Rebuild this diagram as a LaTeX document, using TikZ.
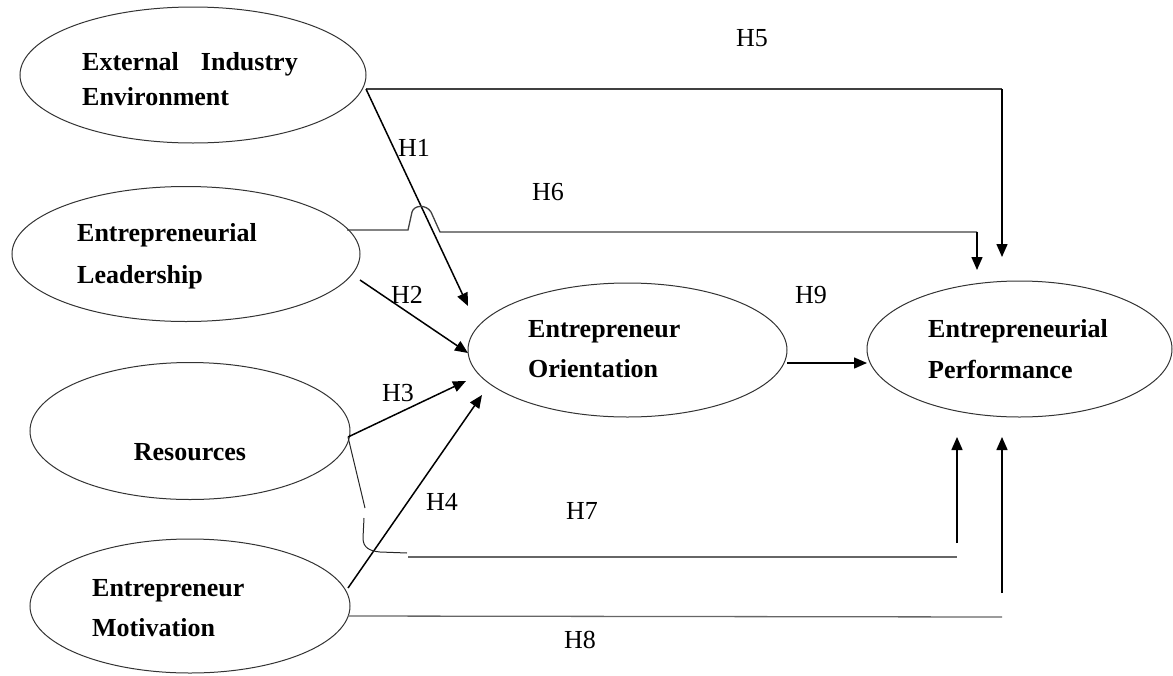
\documentclass[tikz,border=0pt]{standalone}
\usepackage{fontspec}
\setmainfont{Liberation Serif}
\usetikzlibrary{shapes.geometric,arrows.meta}
\begin{document}
\begin{tikzpicture}[x=1pt,y=-1pt,
  ell/.style={draw=black!80,line width=1pt,ellipse,inner sep=0pt},
  btxt/.style={font=\fontsize{26}{40}\selectfont\bfseries,inner sep=0pt,anchor=base west},
  hlab/.style={font=\fontsize{26}{30}\selectfont,inner sep=0pt,anchor=center},
  arr/.style={line width=1.5pt,-{Triangle[length=13pt,width=11pt]}},
  conn/.style={line width=1.3pt,draw=black!75},
  thin/.style={line width=1pt,draw=black!85}]
\useasboundingbox (0,0) rectangle (1173,675);
% ellipses
\node[ell,minimum width=346pt,minimum height=136pt] (eie) at (193,75) {};
\node[ell,minimum width=348pt,minimum height=135pt] (el) at (186,254) {};
\node[ell,minimum width=320pt,minimum height=137pt] (res) at (190,431) {};
\node[ell,minimum width=320pt,minimum height=134pt] (mot) at (190,606) {};
\node[ell,minimum width=319pt,minimum height=134pt] (eo) at (627.5,350) {};
\node[ell,minimum width=305pt,minimum height=136pt] (ep) at (1019.5,349) {};
% texts
\node[btxt] (eiet1) at (82,70) {External\hspace{22pt}Industry};
\node[btxt] (eiet2) at (82,105) {Environment};
\node[btxt] (elt1) at (77,241) {Entrepreneurial};
\node[btxt] (elt2) at (77,283) {Leadership};
\node[btxt,anchor=base] (rest) at (190,460) {Resources};
\node[btxt] (mott1) at (92,596) {Entrepreneur};
\node[btxt] (mott2) at (92,636) {Motivation};
\node[btxt] (eot1) at (528,337) {Entrepreneur};
\node[btxt] (eot2) at (528,377) {Orientation};
\node[btxt] (ept1) at (928,337) {Entrepreneurial};
\node[btxt] (ept2) at (928,378) {Performance};
% labels
\node[hlab] (h5) at (752,38) {H5};
\node[hlab] (h1) at (414,148) {H1};
\node[hlab] (h6) at (548,192) {H6};
\node[hlab] (h2) at (407,295) {H2};
\node[hlab] (h9) at (811,295) {H9};
\node[hlab] (h3) at (398,393) {H3};
\node[hlab] (h4) at (442,502) {H4};
\node[hlab] (h7) at (582,511) {H7};
\node[hlab] (h8) at (580,640) {H8};
% coordinates
\coordinate (eieR) at (366,89);
\coordinate (h5c) at (1002,89);
\coordinate (h5t) at (1002,257);
\coordinate (h1t) at (468,306);
\coordinate (elR) at (347,230);
\coordinate (h6a) at (408,230);
\coordinate (h6b) at (440,232);
\coordinate (h6c) at (977,232);
\coordinate (h6t) at (977,270);
\coordinate (elR2) at (360,280);
\coordinate (h2t) at (468,353);
\coordinate (resR) at (348,437);
\coordinate (h3t) at (466,381);
\coordinate (motR) at (348,588);
\coordinate (h4t) at (482,395);
\coordinate (h7a) at (365,508);
\coordinate (h7b) at (364,518);
\coordinate (h7c) at (407,553);
\coordinate (h7d) at (408,557);
\coordinate (h7e) at (957,557);
\coordinate (h7s) at (957,543);
\coordinate (h7t) at (957,437);
\coordinate (motR2) at (348,616);
\coordinate (h8e) at (1002,617);
\coordinate (h8s) at (1002,593);
\coordinate (h8t) at (1002,437);
\coordinate (eoR) at (787,363);
\coordinate (h9t) at (867,363);
% connectors
\draw[conn] (eieR) -- (h5c);
\draw[arr] (h5c) -- (h5t);
\draw[arr] (eieR) -- (h1t);
\draw[conn] (elR) -- (h6a) -- (412,212) .. controls (414,205) and (426,204) .. (431,212) -- (h6b) -- (h6c);
\draw[arr] (h6c) -- (h6t);
\draw[arr] (elR2) -- (h2t);
\draw[arr] (resR) -- (h3t);
\draw[arr] (motR) -- (h4t);
\draw[thin] (resR) -- (h7a);
\draw[thin] (h7b) -- (363,538) .. controls (363,548) and (370,551) .. (380,552) -- (h7c);
\draw[conn,draw=black!60] (h7d) -- (h7e);
\draw[arr] (h7s) -- (h7t);
\draw[conn,draw=black!60] (motR2) -- (h8e);
\draw[arr] (h8s) -- (h8t);
\draw[arr] (eoR) -- (h9t);
\end{tikzpicture}
\end{document}
